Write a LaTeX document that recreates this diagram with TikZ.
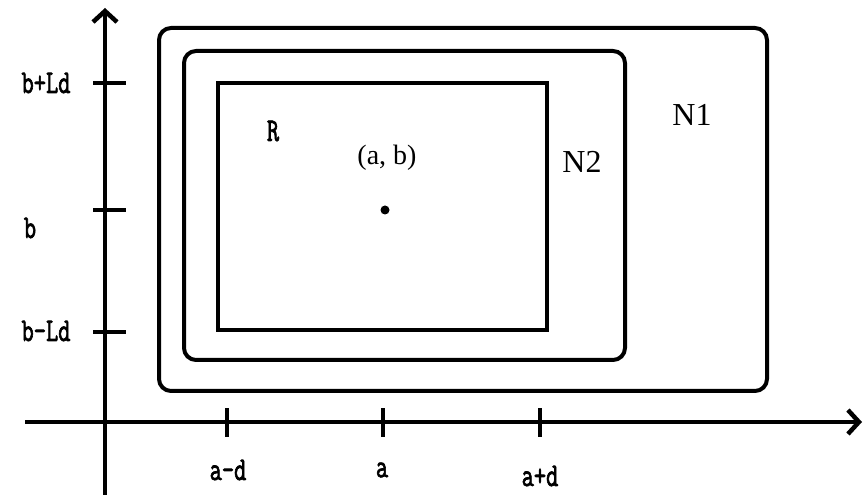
\documentclass[tikz,border=0pt]{standalone}
\usepackage{fontspec}
\usepackage{graphicx}
\setmainfont{Liberation Serif}
\newfontfamily\labelfont[FakeBold=2.5]{Latin Modern Mono}
\newcommand{\axistext}[1]{\scalebox{0.72}[1]{#1}}
\usetikzlibrary{arrows.meta}

\begin{document}
\begin{tikzpicture}[
    x=1pt, y=1pt,
    axis/.style={line width=4.5pt, -{Straight Barb[length=11pt, width=24pt, line width=4.5pt]}},
    tick/.style={line width=3.5pt},
    region/.style={draw, line width=4pt, inner sep=0pt},
    setlabel/.style={font=\fontsize{32}{32}\selectfont},
    pointlabel/.style={font=\fontsize{28}{28}\selectfont},
    axislabel/.style={font=\labelfont\fontsize{33}{33}\selectfont}
]
    \useasboundingbox (0,0) rectangle (865,495);

    % axes
    \coordinate (xstart) at (25,73);
    \coordinate (xend) at (862,73);
    \coordinate (ystart) at (105,0);
    \coordinate (yend) at (105,487);
    \draw[axis] (xstart) -- (xend);
    \draw[axis] (ystart) -- (yend);

    % ticks on the axes
    \foreach \y/\name in {412/top, 285/mid, 163/bot} {
        \coordinate (yt\name l) at (93,\y);
        \coordinate (yt\name r) at (126,\y);
        \draw[tick] (yt\name l) -- (yt\name r);
    }
    \foreach \x/\name in {227/left, 383/mid, 540/right} {
        \coordinate (xt\name b) at (\x,58);
        \coordinate (xt\name t) at (\x,87);
        \draw[tick] (xt\name b) -- (xt\name t);
    }

    % the three regions
    \node[region, rounded corners=12pt, minimum width=608pt, minimum height=363pt] (N1) at (463,285.5) {};
    \node[region, rounded corners=12pt, minimum width=441pt, minimum height=309pt] (N2) at (404.5,289.5) {};
    \node[region, minimum width=329pt, minimum height=247pt] (R) at (382.5,288.5) {};

    % centre point
    \fill (385,285) circle (4.5pt);

    % labels
    \node[axislabel] (lR) at (273,364) {\axistext{R}};
    \node[pointlabel] (lab) at (387,337) {(a, b)};
    \node[setlabel] (lN2) at (582,333) {N2};
    \node[setlabel] (lN1) at (692,380) {N1};
    \node[axislabel] (lbtop) at (46,412) {\axistext{b+Ld}};
    \node[axislabel] (lbmid) at (30,267) {\axistext{b}};
    \node[axislabel] (lbbot) at (46,164) {\axistext{b-Ld}};
    \node[axislabel] (lamin) at (228,25) {\axistext{a-d}};
    \node[axislabel] (lamid) at (382,25) {\axistext{a}};
    \node[axislabel] (laplus) at (540,19) {\axistext{a+d}};
\end{tikzpicture}
\end{document}
